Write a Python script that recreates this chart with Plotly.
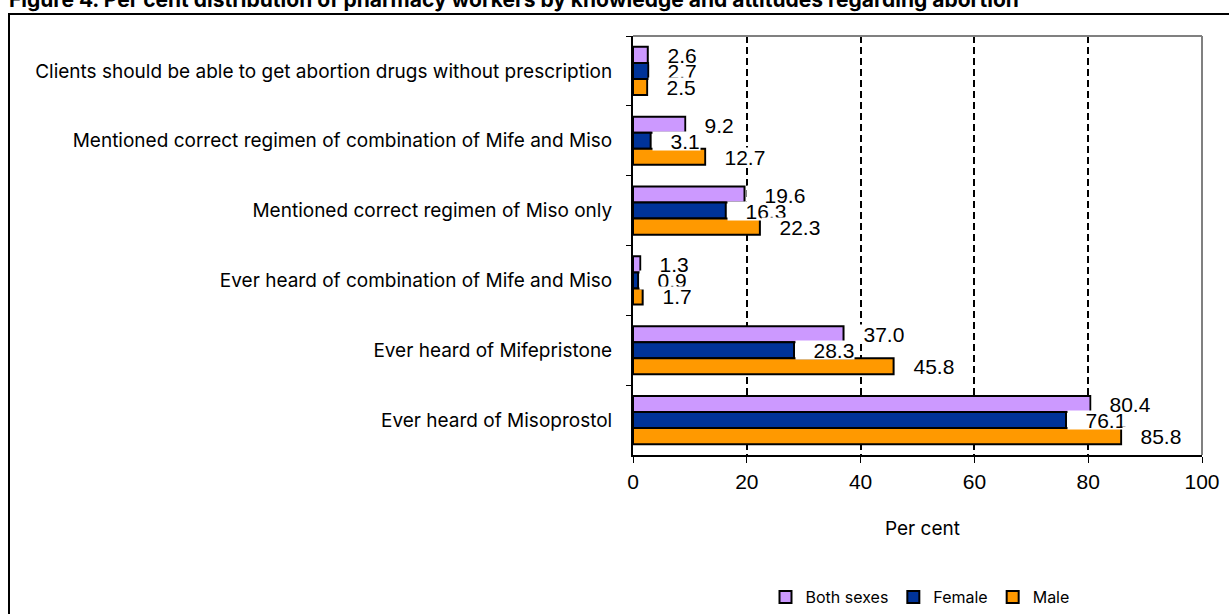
import plotly.graph_objects as go

categories = [
    "Clients should be able to get abortion drugs without prescription",
    "Mentioned correct regimen of combination of Mife and Miso",
    "Mentioned correct regimen of Miso only",
    "Ever heard of combination of Mife and Miso",
    "Ever heard of Mifepristone",
    "Ever heard of Misoprostol",
]
both_sexes = [2.6, 9.2, 19.6, 1.3, 37.0, 80.4]
female = [2.7, 3.1, 16.3, 0.9, 28.3, 76.1]
male = [2.5, 12.7, 22.3, 1.7, 45.8, 85.8]
series_names = ["Both sexes", "Female", "Male"]
series_colors = ["#CC99FF", "#003399", "#FF9900"]
x_ticks = [0, 20, 40, 60, 80, 100]

W, H = 1229, 614
ML, MR, MT, MB = 633, 27, 36, 159
PW, PH = W - ML - MR, H - MT - MB
BARGAP = 0.31
NUMFONT = "Liberation Sans, Arial, sans-serif"
TXTFONT = "Inter, Liberation Sans, sans-serif"


def px_x(px):
    return (px - ML) / PW


def px_y(py):
    return (H - MB - py) / PH


fig = go.Figure()
series = [both_sexes, female, male]
for name, vals, col in zip(series_names, series, series_colors):
    fig.add_trace(go.Bar(
        y=categories, x=vals, name=name, orientation="h",
        marker=dict(color=col, line=dict(color="black", width=2)),
        hoverinfo="x+name",
    ))

# data labels with white boxes (outside end); Female labels drawn first (underneath)
cat_px = PH / len(categories)
bar_px = (1 - BARGAP) / 3 * cat_px
shifts = [bar_px, 0, -bar_px]
annotations = []
for idx in [1, 0, 2]:
    vals, ys = series[idx], shifts[idx]
    for c, v in zip(categories, vals):
        annotations.append(dict(
            x=v, y=c, xref="x", yref="y", text="\u00a0\u00a0\u00a0" + f"{v:.1f}",
            showarrow=False, xanchor="left", yanchor="middle", yshift=ys,
            xshift=1, bgcolor="white", borderpad=0, height=18, valign="middle",
            font=dict(family=NUMFONT, size=21, color="black"),
        ))

# axis title
annotations.append(dict(
    x=px_x(922), y=px_y(528), xref="paper", yref="paper", text="Per cent",
    showarrow=False, xanchor="center", yanchor="middle",
    font=dict(family=TXTFONT, size=19, color="black"),
))
# figure title (partially cut off at the top edge)
annotations.append(dict(
    x=px_x(7), y=px_y(-1), xref="paper", yref="paper",
    text="<b>Figure 4. Per cent distribution of pharmacy workers by knowledge and attitudes regarding abortion</b>",
    showarrow=False, xanchor="left", yanchor="middle",
    font=dict(family=TXTFONT, size=21, color="black"),
))

shapes = [
    # outer frame
    dict(type="rect", xref="paper", yref="paper",
         x0=px_x(9), x1=px_x(W + 10),
         y0=px_y(H + 10), y1=px_y(14),
         line=dict(color="black", width=2), fillcolor="rgba(0,0,0,0)", layer="below"),
    # gray top and right borders of the plot area
    dict(type="line", xref="paper", yref="paper", x0=0, x1=1, y0=1, y1=1,
         line=dict(color="#808080", width=2), layer="above"),
    dict(type="line", xref="paper", yref="paper", x0=1, x1=1, y0=0, y1=1,
         line=dict(color="#808080", width=2), layer="above"),
]

fig.update_layout(
    width=W, height=H,
    margin=dict(l=ML, r=MR, t=MT, b=MB, autoexpand=False),
    paper_bgcolor="white", plot_bgcolor="white",
    barmode="group", bargap=BARGAP, bargroupgap=0,
    font=dict(family=TXTFONT, size=18, color="black"),
    xaxis=dict(
        range=[0, 100], tickvals=x_ticks, ticktext=[str(t) for t in x_ticks],
        showgrid=True, gridcolor="black", griddash="7px,4px", gridwidth=2,
        showline=True, linecolor="black", linewidth=2,
        ticks="outside", ticklen=6, tickcolor="black", tickwidth=1,
        ticklabelstandoff=1,
        tickfont=dict(family=NUMFONT, size=21, color="black"),
        zeroline=False, fixedrange=True,
    ),
    yaxis=dict(
        autorange="reversed", type="category",
        showline=True, linecolor="black", linewidth=2,
        ticks="outside", tickson="boundaries", ticklen=5, tickcolor="black", tickwidth=1,
        ticklabelstandoff=15,
        tickfont=dict(family=TXTFONT, size=19, color="black"),
        showgrid=False, fixedrange=True,
    ),
    showlegend=True,
    legend=dict(
        orientation="h", x=px_x(920), xanchor="center", y=px_y(597), yanchor="middle",
        font=dict(family=TXTFONT, size=16, color="black"), itemwidth=30,
        bgcolor="rgba(0,0,0,0)", traceorder="normal",
    ),
    annotations=annotations,
    shapes=shapes,
)

fig.write_html(
    "out.html",
    config={"displayModeBar": False},
    post_script="document.body.style.margin='0';document.body.style.overflow='hidden';",
)
